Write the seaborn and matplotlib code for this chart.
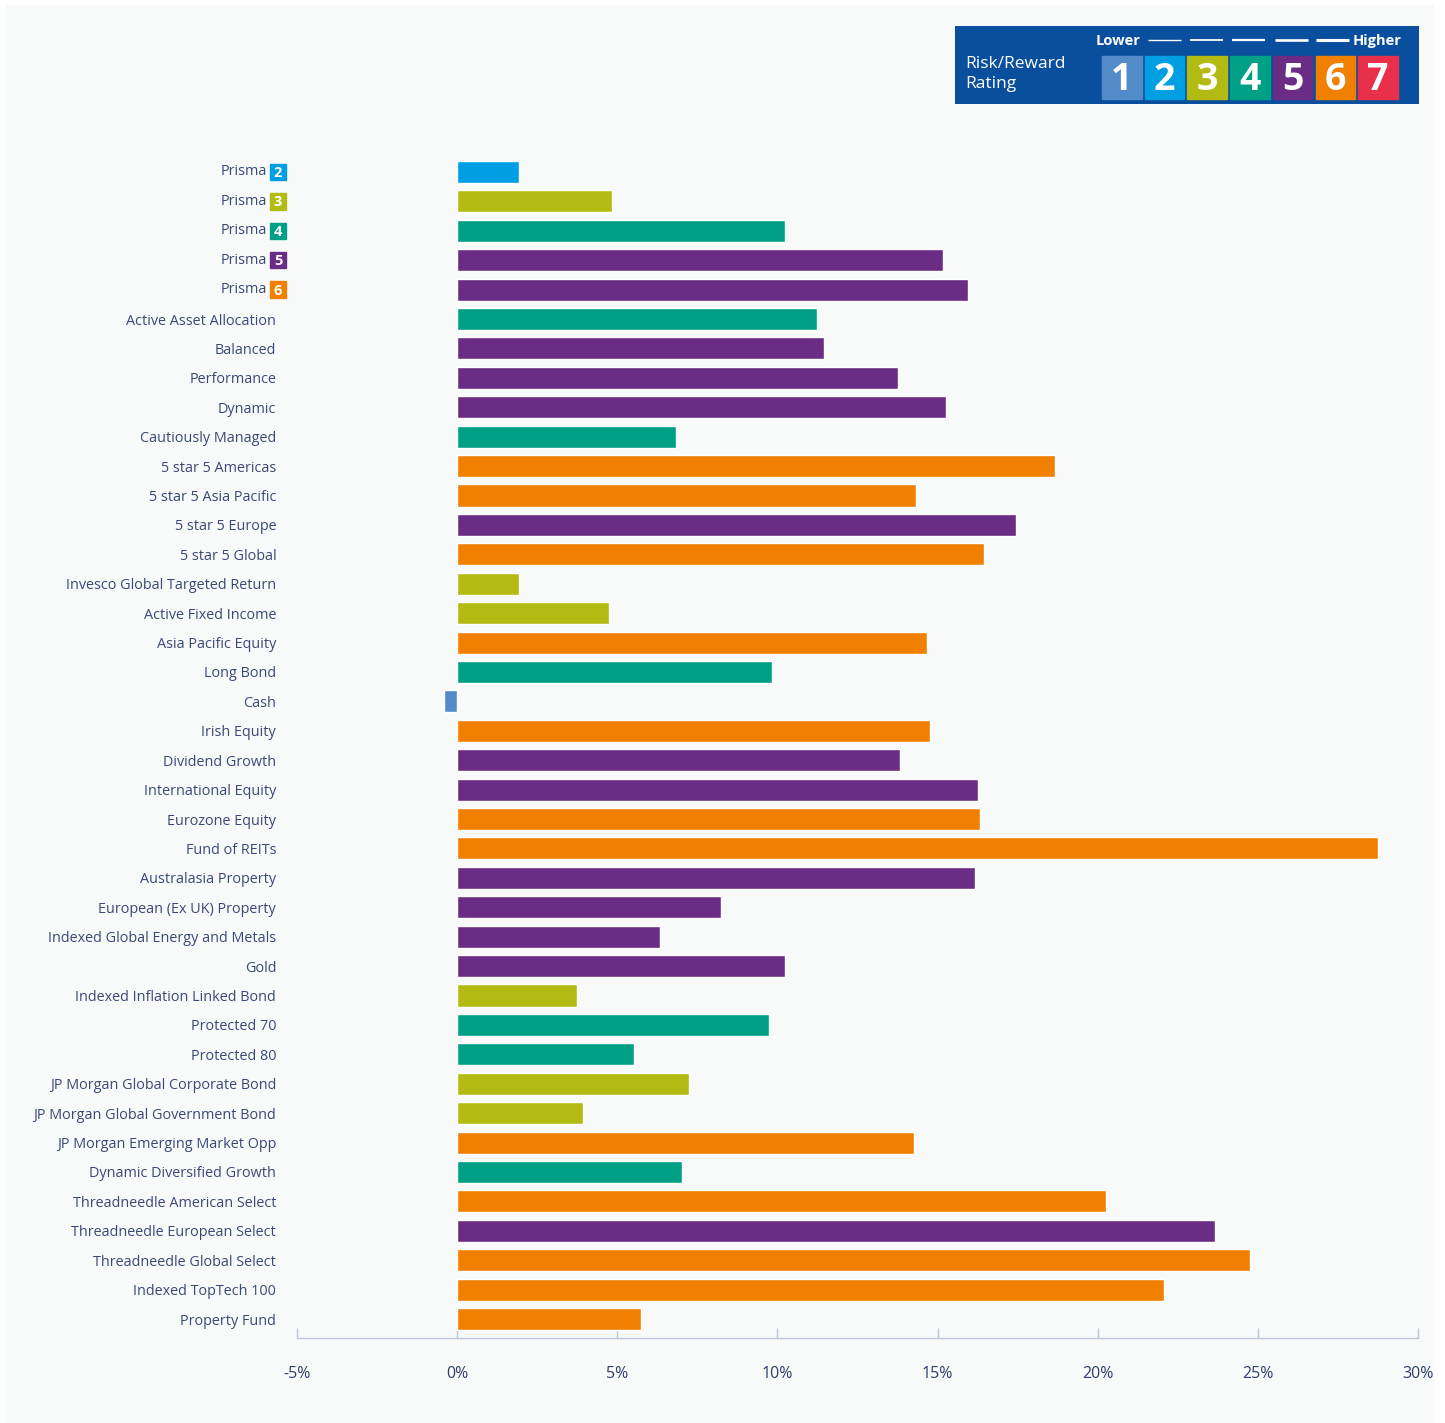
import matplotlib
matplotlib.use("Agg")
import matplotlib.pyplot as plt
from matplotlib.patches import Rectangle
import pandas as pd
import seaborn as sns

funds = [
    "Prisma", "Prisma", "Prisma", "Prisma", "Prisma",
    "Active Asset Allocation", "Balanced", "Performance", "Dynamic",
    "Cautiously Managed", "5 star 5 Americas", "5 star 5 Asia Pacific",
    "5 star 5 Europe", "5 star 5 Global", "Invesco Global Targeted Return",
    "Active Fixed Income", "Asia Pacific Equity", "Long Bond", "Cash",
    "Irish Equity", "Dividend Growth", "International Equity",
    "Eurozone Equity", "Fund of REITs", "Australasia Property",
    "European (Ex UK) Property", "Indexed Global Energy and Metals", "Gold",
    "Indexed Inflation Linked Bond", "Protected 70", "Protected 80",
    "JP Morgan Global Corporate Bond", "JP Morgan Global Government Bond",
    "JP Morgan Emerging Market Opp", "Dynamic Diversified Growth",
    "Threadneedle American Select", "Threadneedle European Select",
    "Threadneedle Global Select", "Indexed TopTech 100", "Property Fund",
]
returns = [
    1.94, 4.84, 10.25, 15.16, 15.94,
    11.25, 11.44, 13.75, 15.25, 6.84,
    18.66, 14.34, 17.44, 16.44, 1.94,
    4.75, 14.66, 9.84, -0.4, 14.75,
    13.84, 16.25, 16.34, 28.75, 16.16,
    8.25, 6.34, 10.25, 3.75, 9.75,
    5.53, 7.25, 3.94, 14.25, 7.03,
    20.25, 23.66, 24.75, 22.06, 5.75,
]
# colour of each bar (Prisma 6 is drawn in the rating-5 colour in the source)
bar_ratings = [
    2, 3, 4, 5, 5,
    4, 5, 5, 5, 4,
    6, 6, 5, 6, 3,
    3, 6, 4, 1, 6,
    5, 5, 6, 6, 5,
    5, 5, 5, 3, 4,
    4, 3, 3, 6, 4,
    6, 5, 6, 6, 6,
]
prisma_ratings = [2, 3, 4, 5, 6]
rating_colours = {
    1: "#538ac8", 2: "#009fe3", 3: "#b3bb13", 4: "#00a086",
    5: "#6a2c84", 6: "#f18000", 7: "#e8304a",
}
x_ticks = [-5, 0, 5, 10, 15, 20, 25, 30]

W, H = 1445, 1423
sns.set_theme(style="white")
plt.rcParams["font.family"] = ["Open Sans", "DejaVu Sans"]
label_col = "#3a4876"
label_size = 10.4

fig = plt.figure(figsize=(W / 100, H / 100), dpi=100)
fig.patch.set_facecolor("white")
fig.patches.append(Rectangle((6 / W, 1 / H), 1427 / W, 1 - 6 / H,
                             transform=fig.transFigure, color="#f8fafa", zorder=-10))

ax = fig.add_axes([297 / W, 1 - 1338 / H, 1121 / W, (1338 - 150) / H])
ax.set_facecolor("none")

df = pd.DataFrame({"row": range(len(funds)), "value": returns, "rating": bar_ratings})
df["row"] = df["row"].astype(str)
sns.barplot(data=df, x="value", y="row", hue="rating", palette=rating_colours,
            dodge=False, width=0.75, saturation=1, legend=False, ax=ax)

ax.set_xlim(-5, 30)
ax.set_ylim(39.646, -0.748)
ax.set_xlabel("")
ax.set_ylabel("")
ax.set_xticks(x_ticks)
ax.set_xticklabels([f"{t}%" for t in x_ticks], color="#2e3d6b", fontsize=11.5)
ax.tick_params(axis="x", bottom=True, direction="in", length=7.5, width=1,
               color="#bcc6d8", pad=20)

labels = ["" if f == "Prisma" else f for f in funds]
ax.set_yticks(range(len(funds)))
ax.set_yticklabels(labels, color=label_col, fontsize=label_size)
ax.tick_params(axis="y", left=False, length=0, pad=15)

for s in ["top", "right", "left"]:
    ax.spines[s].set_visible(False)
ax.spines["bottom"].set_color("#bcc6d8")
ax.spines["bottom"].set_linewidth(1)

# Prisma labels with rating badges
ytr = ax.get_yaxis_transform()
px = 1 / 1121
k = 0
for i, f in enumerate(funds):
    if f != "Prisma":
        continue
    r = prisma_ratings[k]
    k += 1
    ax.text(-30 * px, i, "Prisma", ha="right", va="center", color=label_col,
            fontsize=label_size, transform=ytr, clip_on=False)
    ax.add_patch(Rectangle((-27 * px, i - 0.28), 16 * px, 0.56, transform=ytr,
                           color=rating_colours[r], clip_on=False))
    ax.text(-19 * px, i + 0.03, str(r), ha="center", va="center", color="white",
            fontsize=10.5, fontweight="bold", transform=ytr, clip_on=False)

# risk / reward key
lg = fig.add_axes([955 / W, 1 - 104 / H, 464 / W, 78 / H])
lg.set_xlim(955, 1419)
lg.set_ylim(104, 26)
lg.axis("off")
lg.add_patch(Rectangle((955, 26), 464, 78, color="#0a4f9e"))
lg.text(965, 64, "Risk/Reward", color="white", fontsize=12.5, va="center")
lg.text(965, 84, "Rating", color="white", fontsize=12.5, va="center")
lg.text(1096, 41, "Lower", color="white", fontsize=10.5, fontweight="bold", va="center")
lg.text(1402, 41, "Higher", color="white", fontsize=10.5, fontweight="bold",
        va="center", ha="right")
for j, (x0, x1) in enumerate([(1148, 1181), (1190, 1223), (1232, 1265),
                               (1275, 1308), (1316, 1349)]):
    lg.plot([x0, x1], [40, 40], color="white", lw=1 + 0.3 * j, solid_capstyle="butt")
for r in range(1, 8):
    x0 = 1102 + (r - 1) * 42.7
    lg.add_patch(Rectangle((x0, 56), 39.5, 43, color=rating_colours[r]))
    lg.text(x0 + 19.75, 79.5, str(r), color="white", fontsize=27, fontweight="bold",
            ha="center", va="center")

fig.savefig("out.png", dpi=100, facecolor="white")
